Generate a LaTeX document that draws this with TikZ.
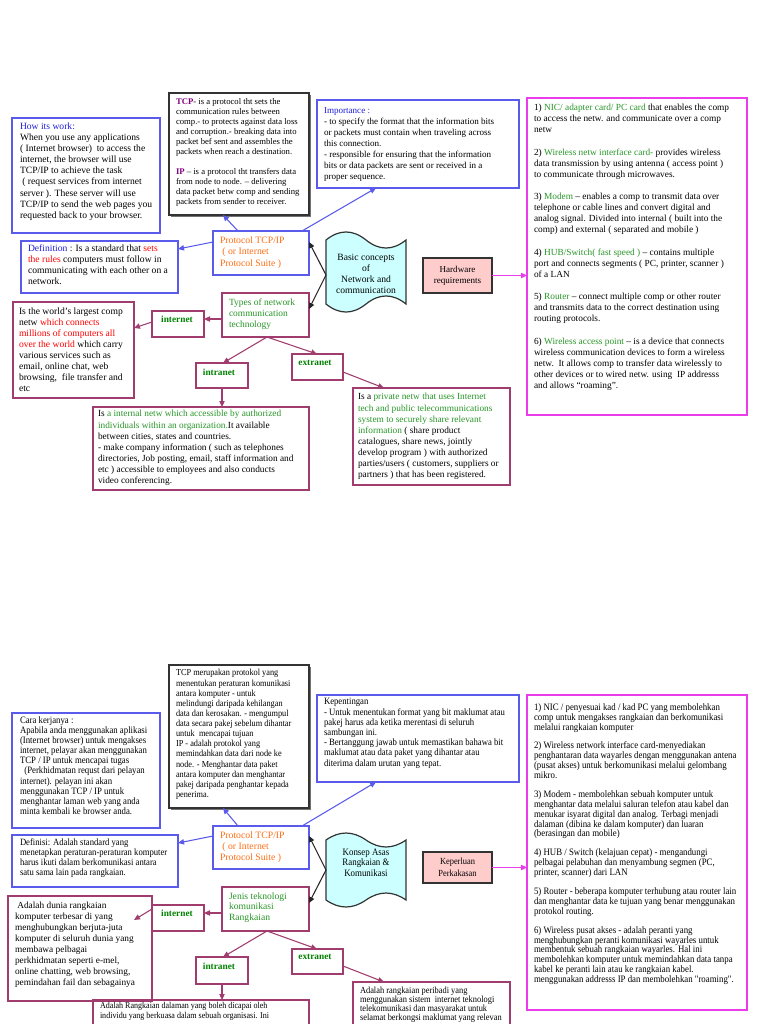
\documentclass[tikz,border=0pt]{standalone}
\usepackage{fontspec}
\setmainfont{Liberation Serif}
\newfontfamily\cfont[FakeStretch=0.9]{Liberation Serif}
\usetikzlibrary{arrows.meta,calc,shadows}
\definecolor{bbord}{RGB}{90,90,235}
\definecolor{mag}{RGB}{235,60,235}
\definecolor{plum}{RGB}{160,60,110}
\definecolor{cyanf}{RGB}{204,255,255}
\definecolor{pinkf}{RGB}{255,204,204}
\definecolor{orng}{RGB}{255,110,20}
\definecolor{dgrn}{RGB}{0,130,0}
\definecolor{lgrn}{RGB}{40,150,40}
\definecolor{rd}{RGB}{255,0,0}
\definecolor{bl}{RGB}{30,30,220}
\definecolor{purp}{RGB}{128,0,128}
\newcommand\fE{\fontsize{7.2}{8.3}\selectfont}
\newcommand\fT{\fontsize{6.5}{7.5}\selectfont}
\newcommand\fI{\fontsize{6.8}{8.3}\selectfont}
\newcommand\bxat[6]{\node[#1, minimum width=#5*0.75pt, minimum height=#6*0.75pt] (#2) at (#3,#4) {};}
\tikzset{
 bx/.style={draw, rectangle, anchor=north west, inner sep=0pt, outer sep=0pt, line width=0.9pt},
 bbox/.style={bx, draw=bbord},
 mbox/.style={bx, draw=mag},
 pbox/.style={bx, draw=plum},
 kbox/.style={bx, draw=black!80, fill=white, drop shadow={shadow xshift=1.6pt, shadow yshift=-1.6pt, fill=black!55, opacity=1}},
 rbox/.style={bx, draw=black!80, fill=pinkf},
 tx/.style={anchor=north west, inner sep=0pt, outer sep=0pt, align=left},
 ctx/.style={anchor=center, inner sep=0pt, outer sep=0pt, align=center},
 lab/.style={ctx, text=dgrn, font=\fontsize{7}{8}\selectfont\bfseries},
 arr/.style={line width=0.8pt, -{Triangle[length=4.5pt,width=4pt]}},
 tapest/.style={draw=black!80, fill=cyanf, line width=0.9pt},
}
\begin{document}
\begin{tikzpicture}[x=0.75pt,y=-0.75pt]
\useasboundingbox (0,0) rectangle (768,1024);
\fill[white] (0,0) rectangle (768,1024);
\clip (0,0) rectangle (768,1024);

%================ TOP DIAGRAM ================
\bxat{bbox}{how}{12}{118}{148}{115}
\bxat{kbox}{tcp}{169}{93}{140}{122}
\bxat{bbox}{imp}{317}{100}{202}{88}
\bxat{mbox}{hwl}{527}{98}{220}{317}
\bxat{bbox}{def}{21}{241}{157}{52}
\bxat{bbox}{prot}{213}{231}{96}{44}
\bxat{rbox}{hwr}{423}{258}{69}{35}
\bxat{pbox}{types}{222}{293}{87}{44}
\bxat{pbox}{inet}{152}{311}{52}{26}
\bxat{pbox}{intra}{196}{363}{52}{25}
\bxat{pbox}{extra}{292}{354}{51}{26}
\bxat{pbox}{idesc}{13}{302}{121}{96}
\bxat{pbox}{trdesc}{93}{407}{216}{83}
\bxat{pbox}{exdesc}{353}{388}{157}{97}

\draw[tapest] (326,240) .. controls (339.3,229.3) and (352.7,229.3) .. (366,240) .. controls (379.3,250.7) and (392.7,250.7) .. (406,240) -- (406,304) .. controls (392.7,293.3) and (379.3,293.3) .. (366,304) .. controls (352.7,314.7) and (339.3,314.7) .. (326,304) -- cycle;
\coordinate (bc) at (326,275);

\node[tx, font=\fE] (how-t) at (20,123) {{\color{bl}How its work:}\\
When you use any applications\\
( Internet browser)\ \ to access the\\
internet, the browser will use\\
TCP/IP to achieve the task\\
\ ( request services from internet\\
server ). These server will use\\
TCP/IP to send the web pages you\\
requested back to your browser.};

\node[tx, font=\fT] (tcp-t) at (176,98.5) {{\color{purp}\textbf{TCP}}- is a protocol tht sets the\\
communication rules between\\
comp.- to protects against data loss\\
and corruption.- breaking data into\\
packet bef sent and assembles the\\
packets when reach a destination.\\[7.5pt]
{\color{purp}\textbf{IP}} -- is a protocol tht transfers data\\
from node to node. -- delivering\\
data packet betw comp and sending\\
packets from sender to receiver.};

\node[tx, font=\fI] (imp-t) at (324,107.5) {{\color{bl}Importance :}\\
- to specify the format that the information bits\\
or packets must contain when traveling across\\
this connection.\\
- responsible for ensuring that the information\\
bits or data packets are sent or received in a\\
proper sequence.};

\node[tx, font=\fontsize{7}{8.25}\selectfont] (hwl-t) at (534,104.5) {1) {\color{lgrn}NIC/ adapter card/ PC card} that enables the comp\\
to access the netw. and communicate over a comp\\
netw\\[8.6pt]
2) {\color{lgrn}Wireless netw interface card-} provides wireless\\
data transmission by using antenna ( access point )\\
to communicate through microwaves.\\[8.6pt]
3) {\color{lgrn}Modem} -- enables a comp to transmit data over\\
telephone or cable lines and convert digital and\\
analog signal. Divided into internal ( built into the\\
comp) and external ( separated and mobile )\\[8.6pt]
4) {\color{lgrn}HUB/Switch( fast speed )} -- contains multiple\\
port and connects segments ( PC, printer, scanner )\\
of a LAN\\[8.6pt]
5) {\color{lgrn}Router} -- connect multiple comp or other router\\
and transmits data to the correct destination using\\
routing protocols.\\[8.6pt]
6) {\color{lgrn}Wireless access point} -- is a device that connects\\
wireless communication devices to form a wireless\\
netw.\ \ It allows comp to transfer data wirelessly to\\
other devices or to wired netw. using\ \ IP addresss\\
and allows ``roaming''.};

\node[tx, font=\fE] (def-t) at (28,244.5) {{\color{bl}Definition} : Is a standard that {\color{rd}sets}\\
{\color{rd}the rules} computers must follow in\\
communicating with each other on a\\
network.};

\node[tx, text=orng, font=\fontsize{7.3}{8.6}\selectfont] (prot-t) at (220,236.5) {Protocol TCP/IP\\
\ ( or Internet\\
Protocol Suite )};

\node[ctx, font=\fontsize{7.2}{8.25}\selectfont] (bc-t) at (366,273.5) {Basic concepts\\ of\\ Network and\\ communication};
\node[ctx, font=\fontsize{6.8}{8.25}\selectfont] (hwr-t) at (hwr.center) {Hardware\\ requirements};

\node[tx, text=lgrn, font=\fontsize{7.1}{8.3}\selectfont] (types-t) at (229,298.5) {Types of network\\ communication\\ technology};

\node[lab] (inet-t) at (177,319) {internet};
\node[lab] (intra-t) at (219,372) {intranet};
\node[lab] (extra-t) at (315,363) {extranet};

\node[tx, font=\fE] (idesc-t) at (19,307.5) {Is the world's largest comp\\
netw {\color{rd}which connects}\\
{\color{rd}millions of computers all}\\
{\color{rd}over the world} which carry\\
various services such as\\
email, online chat, web\\
browsing,\ \ file transfer and\\
etc};

\node[tx, font=\fontsize{7}{8.3}\selectfont] (trdesc-t) at (98,410.5) {Is {\color{lgrn}a internal netw which accessible by authorized}\\
{\color{lgrn}individuals within an organization.}It available\\
between cities, states and countries.\\
- make company information ( such as telephones\\
directories, Job posting, email, staff information and\\
etc ) accessible to employees and also conducts\\
video conferencing.};

\node[tx, font=\fontsize{7}{8.3}\selectfont] (exdesc-t) at (358,393.5) {Is a {\color{lgrn}private netw that uses Internet}\\
{\color{lgrn}tech and public telecommunications}\\
{\color{lgrn}system to securely share relevant}\\
{\color{lgrn}information} ( share product\\
catalogues, share news, jointly\\
develop program ) with authorized\\
parties/users ( customers, suppliers or\\
partners ) that has been registered.};

% connectors top
\draw[arr, bbord] ($(prot.north west)+(25,0)$) -- ($(tcp.south west)+(54,0)$);
\draw[arr, bbord] ($(prot.north west)+(89,0)$) -- ($(imp.south west)+(59,0)$);
\draw[arr, bbord] ($(prot.north west)+(0,11)$) -- ($(def.north east)+(0,8)$);
\draw[arr, black!85] (bc) -- ($(prot.north east)+(0,11)$);
\draw[arr, black!85] (bc) -- ($(types.north east)+(0,16)$);
\draw[arr, mag] (hwr.east) -- (hwr.east -| hwl.west);
\draw[arr, plum] ($(types.north west)+(0,26)$) -- ($(inet.north east)+(0,8)$);
\draw[arr, plum] ($(inet.north west)+(0,11)$) -- ($(idesc.north east)+(0,26)$);
\draw[arr, plum] ($(types.south west)+(45,0)$) -- ($(intra.north west)+(27,0)$);
\draw[arr, plum] ($(types.south west)+(45,0)$) -- ($(extra.north west)+(25,0)$);
\draw[arr, plum] ($(intra.south west)+(26,0)$) -- ($(trdesc.north west)+(129,0)$);
\draw[arr, plum] ($(extra.north east)+(0,18)$) -- ($(exdesc.north west)+(31,0)$);

%================ BOTTOM DIAGRAM ================
\bxat{bbox}{how2}{12}{713}{148}{115}
\bxat{kbox}{tcp2}{169}{665}{140}{143}
\bxat{bbox}{imp2}{317}{695}{202}{87}
\bxat{mbox}{hwl2}{527}{695}{220}{315}
\bxat{bbox}{def2}{12}{835}{166}{52}
\bxat{bbox}{prot2}{213}{826}{96}{43}
\bxat{rbox}{hwr2}{423}{852}{69}{31}
\bxat{pbox}{types2}{222}{887}{87}{44}
\bxat{pbox}{inet2}{152}{905}{52}{26}
\bxat{pbox}{intra2}{196}{957}{52}{27}
\bxat{pbox}{extra2}{292}{949}{51}{25}
\bxat{pbox}{idesc2}{8}{896}{144}{105}
\bxat{pbox}{trdesc2}{93}{1000}{216}{60}
\bxat{pbox}{exdesc2}{353}{982}{157}{60}

\draw[tapest] (326,840) .. controls (339.3,830.7) and (352.7,830.7) .. (366,840) .. controls (379.3,849.3) and (392.7,849.3) .. (406,840) -- (406,900) .. controls (392.7,890.7) and (379.3,890.7) .. (366,900) .. controls (352.7,909.3) and (339.3,909.3) .. (326,900) -- cycle;
\coordinate (bc2) at (326,870);

\node[tx, font=\cfont\fontsize{7.3}{7.6}\selectfont] (how2-t) at (20,716.5) {Cara kerjanya :\\
Apabila anda menggunakan aplikasi\\
(Internet browser) untuk mengakses\\
internet, pelayar akan menggunakan\\
TCP / IP untuk mencapai tugas\\
\ \ (Perkhidmatan requst dari pelayan\\
internet). pelayan ini akan\\
menggunakan TCP / IP untuk\\
menghantar laman web yang anda\\
minta kembali ke browser anda.};

\node[tx, font=\cfont\fontsize{6.9}{7.6}\selectfont] (tcp2-t) at (176,669.5) {TCP merupakan protokol yang\\
menentukan peraturan komunikasi\\
antara komputer - untuk\\
melindungi daripada kehilangan\\
data dan kerosakan. - mengumpul\\
data secara pakej sebelum dihantar\\
untuk\ \ mencapai tujuan\\
IP - adalah protokol yang\\
memindahkan data dari node ke\\
node. - Menghantar data paket\\
antara komputer dan menghantar\\
pakej daripada penghantar kepada\\
penerima.};

\node[tx, font=\cfont\fontsize{7.25}{7.65}\selectfont] (imp2-t) at (324,698.5) {Kepentingan\\
- Untuk menentukan format yang bit maklumat atau\\
pakej harus ada ketika merentasi di seluruh\\
sambungan ini.\\
- Bertanggung jawab untuk memastikan bahawa bit\\
maklumat atau data paket yang dihantar atau\\
diterima dalam urutan yang tepat.};

\node[tx, font=\cfont\fontsize{7.35}{7.4}\selectfont] (hwl2-t) at (534,703.5) {1) NIC / penyesuai kad / kad PC yang membolehkan\\
comp untuk mengakses rangkaian dan berkomunikasi\\
melalui rangkaian komputer\\[6.8pt]
2) Wireless network interface card-menyediakan\\
penghantaran data wayarles dengan menggunakan antena\\
(pusat akses) untuk berkomunikasi melalui gelombang\\
mikro.\\[6.8pt]
3) Modem - membolehkan sebuah komputer untuk\\
menghantar data melalui saluran telefon atau kabel dan\\
menukar isyarat digital dan analog. Terbagi menjadi\\
dalaman (dibina ke dalam komputer) dan luaran\\
(berasingan dan mobile)\\[6.8pt]
4) HUB / Switch (kelajuan cepat) - mengandungi\\
pelbagai pelabuhan dan menyambung segmen (PC,\\
printer, scanner) dari LAN\\[6.8pt]
5) Router - beberapa komputer terhubung atau router lain\\
dan menghantar data ke tujuan yang benar menggunakan\\
protokol routing.\\[6.8pt]
6) Wireless pusat akses - adalah peranti yang\\
menghubungkan peranti komunikasi wayarles untuk\\
membentuk sebuah rangkaian wayarles. Hal ini\\
membolehkan komputer untuk memindahkan data tanpa\\
kabel ke peranti lain atau ke rangkaian kabel.\\
menggunakan addresss IP dan membolehkan "roaming".};

\node[tx, font=\cfont\fontsize{7.2}{7.5}\selectfont] (def2-t) at (20,838.5) {Definisi: Adalah standard yang\\
menetapkan peraturan-peraturan komputer\\
harus ikuti dalam berkomunikasi antara\\
satu sama lain pada rangkaian.};

\node[tx, text=orng, font=\fontsize{7.3}{8.3}\selectfont] (prot2-t) at (220,831.5) {Protocol TCP/IP\\
\ ( or Internet\\
Protocol Suite )};

\node[ctx, font=\cfont\fontsize{7.4}{8}\selectfont] (bc2-t) at (366,862.5) {Konsep Asas\\ Rangkaian \&\\ Komunikasi};
\node[ctx, font=\cfont\fontsize{7}{8.6}\selectfont] (hwr2-t) at (hwr2.center) {Keperluan\\ Perkakasan};

\node[tx, text=lgrn, font=\fontsize{7.2}{7.9}\selectfont] (types2-t) at (229,892.5) {Jenis teknologi\\ komunikasi\\ Rangkaian};

\node[lab] (inet2-t) at (177,913) {internet};
\node[lab] (intra2-t) at (219,966) {intranet};
\node[lab] (extra2-t) at (315,957) {extranet};

\node[tx, font=\fontsize{7}{8.25}\selectfont] (idesc2-t) at (15,902) {\ Adalah dunia rangkaian\\
komputer terbesar di yang\\
menghubungkan berjuta-juta\\
komputer di seluruh dunia yang\\
membawa pelbagai\\
perkhidmatan seperti e-mel,\\
online chatting, web browsing,\\
pemindahan fail dan sebagainya};

\node[tx, font=\cfont\fontsize{6.7}{7}\selectfont] (trdesc2-t) at (100,1002.5) {Adalah Rangkaian dalaman yang boleh dicapai oleh\\
individu yang berkuasa dalam sebuah organisasi. Ini};

\node[tx, font=\cfont\fontsize{7}{6.7}\selectfont] (exdesc2-t) at (360,987.5) {Adalah rangkaian peribadi yang\\
menggunakan sistem\ \ internet teknologi\\
telekomunikasi dan masyarakat untuk\\
selamat berkongsi maklumat yang relevan};

% connectors bottom
\draw[arr, bbord] ($(prot2.north west)+(25,0)$) -- ($(tcp2.south west)+(54,0)$);
\draw[arr, bbord] ($(prot2.north west)+(89,0)$) -- ($(imp2.south west)+(59,0)$);
\draw[arr, bbord] ($(prot2.north west)+(0,10)$) -- ($(def2.north east)+(0,8)$);
\draw[arr, black!85] (bc2) -- ($(prot2.north east)+(0,10)$);
\draw[arr, black!85] (bc2) -- ($(types2.north east)+(0,16)$);
\draw[arr, mag] (hwr2.east) -- (hwr2.east -| hwl2.west);
\draw[arr, plum] ($(types2.north west)+(0,26)$) -- ($(inet2.north east)+(0,8)$);
\draw[arr, plum] ($(inet2.north west)+(0,4)$) -- ($(idesc2.north west)+(126,24)$);
\draw[arr, plum] ($(types2.south west)+(45,0)$) -- ($(intra2.north west)+(27,0)$);
\draw[arr, plum] ($(types2.south west)+(45,0)$) -- ($(extra2.north west)+(25,0)$);
\draw[arr, plum] ($(intra2.south west)+(26,0)$) -- ($(trdesc2.north west)+(129,0)$);
\draw[arr, plum] ($(extra2.north east)+(0,17)$) -- ($(exdesc2.north west)+(31,0)$);
\end{tikzpicture}
\end{document}
